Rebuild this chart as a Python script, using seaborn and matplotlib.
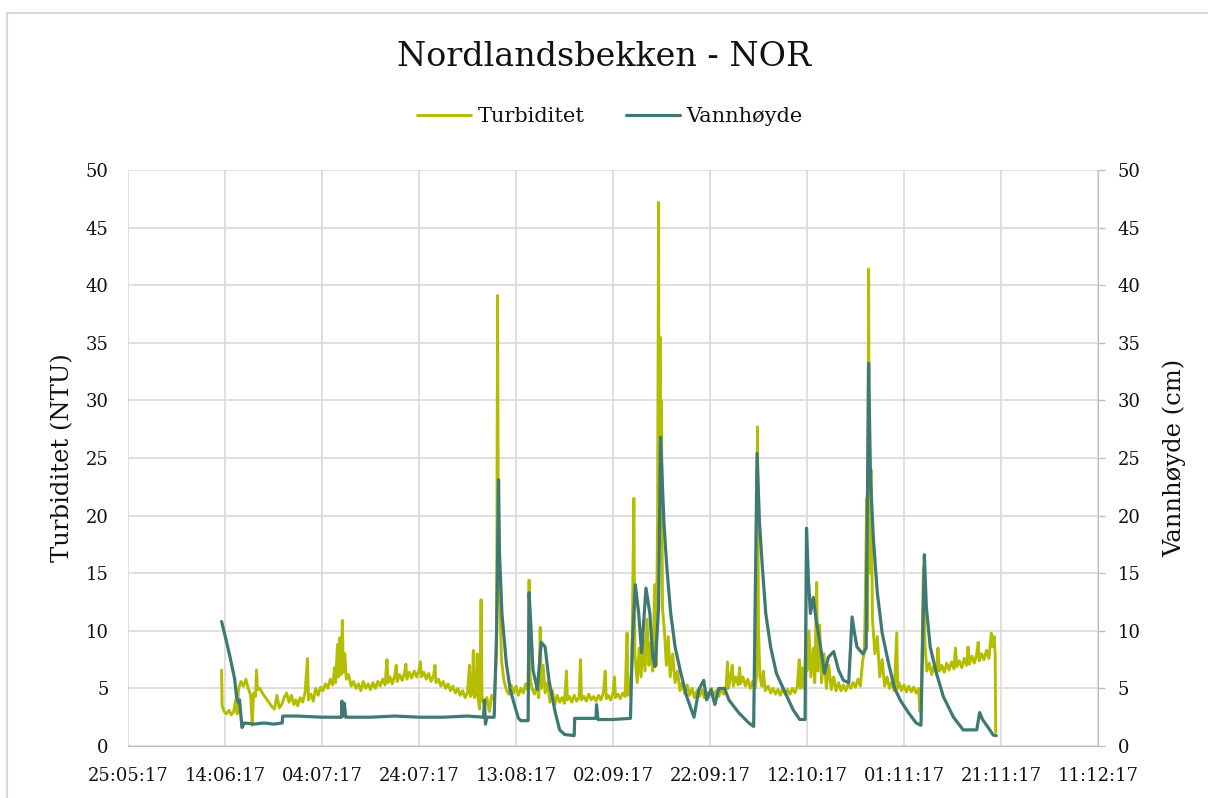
import pandas as pd
import matplotlib.pyplot as plt
import matplotlib.dates as mdates
from matplotlib.patches import Rectangle
import seaborn as sns

# dager etter 25.05.17 og måleverdi
start = pd.Timestamp("2017-05-25")

turbiditet = [
    (19.3, 6.6), (19.4, 3.5), (19.8, 3.0), (20.3, 2.8), (20.8, 3.1), (21.3, 2.7), (21.8, 3.0),
    (22.2, 4.0), (22.5, 2.8), (22.8, 5.0), (23.3, 5.6), (23.8, 5.2), (24.3, 5.8), (24.8, 5.0),
    (25.3, 4.4), (25.6, 1.8), (25.9, 4.6), (26.3, 4.3), (26.5, 6.6), (26.7, 4.9), (27.2, 5.0),
    (27.7, 4.6), (28.2, 4.3), (28.7, 4.0), (29.2, 3.7), (29.7, 3.4), (30.2, 3.2), (30.7, 4.4),
    (31.2, 3.3), (31.7, 3.6), (32.2, 4.2), (32.7, 4.6), (33.2, 3.8), (33.7, 4.4), (34.2, 3.6),
    (34.6, 4.0), (35.0, 3.5), (35.5, 4.2), (36.0, 3.8), (36.5, 4.6), (37.0, 7.6), (37.2, 4.0),
    (37.7, 4.5), (38.2, 3.9), (38.7, 5.0), (39.2, 4.4), (39.7, 5.1), (40.2, 4.8), (40.7, 5.4),
    (41.2, 5.0), (41.7, 5.8), (42.2, 5.3), (42.6, 6.8), (42.8, 5.5), (43.2, 8.8), (43.4, 6.0),
    (43.7, 9.4), (43.9, 6.2), (44.2, 10.9), (44.4, 6.4), (44.7, 8.0), (45.0, 5.8), (45.5, 6.2),
    (46.0, 5.2), (46.5, 5.6), (47.0, 5.0), (47.5, 5.4), (48.0, 4.8), (48.5, 5.6), (49.0, 5.0),
    (49.5, 5.4), (50.0, 4.9), (50.5, 5.5), (51.0, 5.0), (51.5, 5.6), (52.0, 5.2), (52.5, 5.8),
    (53.0, 5.3), (53.4, 7.5), (53.6, 5.5), (54.0, 6.0), (54.5, 5.4), (55.0, 6.1), (55.3, 7.0),
    (55.5, 5.6), (56.0, 6.2), (56.5, 5.7), (57.0, 6.3), (57.3, 7.1), (57.5, 5.8), (58.0, 6.4),
    (58.5, 5.9), (59.0, 6.5), (59.5, 6.0), (60.0, 6.6), (60.3, 7.3), (60.5, 6.0), (61.0, 6.4),
    (61.5, 5.8), (62.0, 6.3), (62.5, 5.6), (63.0, 6.1), (63.3, 7.0), (63.5, 5.5), (64.0, 5.8),
    (64.5, 5.2), (65.0, 5.6), (65.5, 5.0), (66.0, 5.4), (66.5, 4.8), (67.0, 5.2), (67.5, 4.6),
    (68.0, 5.0), (68.5, 4.4), (69.0, 4.8), (69.5, 4.2), (70.0, 4.6), (70.4, 7.0), (70.6, 4.3),
    (71.0, 4.7), (71.2, 8.3), (71.4, 4.2), (71.8, 4.5), (72.0, 8.0), (72.2, 4.0), (72.5, 3.2),
    (72.8, 12.7), (73.0, 4.0), (73.5, 3.5), (74.0, 4.2), (74.5, 3.0), (75.0, 4.4), (75.5, 4.0),
    (76.0, 8.0), (76.2, 39.1), (76.4, 12.7), (76.7, 12.0), (77.0, 7.5), (77.5, 5.7), (78.0, 4.9),
    (78.5, 4.5), (79.0, 5.3), (79.5, 4.6), (80.0, 5.2), (80.5, 4.4), (81.0, 5.0), (81.5, 4.6),
    (82.0, 5.4), (82.5, 4.8), (82.7, 14.4), (82.9, 6.0), (83.3, 5.0), (83.8, 4.5), (84.3, 5.3),
    (84.7, 4.2), (85.0, 10.3), (85.2, 5.0), (85.6, 7.0), (86.0, 4.6), (86.5, 5.5), (87.0, 3.8),
    (87.5, 4.8), (88.0, 3.6), (88.5, 4.4), (89.0, 3.8), (89.5, 4.2), (90.0, 3.7), (90.4, 6.5),
    (90.6, 4.0), (91.0, 4.3), (91.5, 3.8), (92.0, 4.4), (92.5, 3.9), (93.0, 4.2), (93.3, 7.5),
    (93.5, 4.0), (94.0, 4.3), (94.5, 3.9), (95.0, 4.5), (95.5, 4.0), (96.0, 4.3), (96.5, 3.9),
    (97.0, 4.4), (97.5, 4.0), (98.0, 4.6), (98.4, 6.5), (98.6, 4.1), (99.0, 4.4), (99.5, 4.0),
    (100.0, 4.6), (100.3, 6.0), (100.5, 4.2), (101.0, 4.5), (101.5, 4.1), (102.0, 4.6),
    (102.5, 4.3), (102.9, 9.8), (103.1, 4.4), (103.5, 5.0), (103.9, 7.0), (104.3, 21.5),
    (104.5, 8.0), (105.0, 5.5), (105.4, 8.5), (105.8, 6.0), (106.2, 9.5), (106.6, 6.5),
    (107.0, 11.0), (107.4, 7.0), (107.8, 9.0), (108.2, 6.5), (108.6, 14.0), (108.9, 7.0),
    (109.2, 20.0), (109.4, 47.2), (109.5, 18.0), (109.7, 35.5), (109.8, 19.0), (110.0, 30.0),
    (110.2, 12.0), (110.6, 10.0), (111.0, 7.0), (111.4, 9.5), (111.8, 6.0), (112.3, 8.0),
    (112.8, 5.5), (113.3, 6.5), (113.8, 4.8), (114.3, 5.5), (114.8, 4.5), (115.3, 5.3),
    (115.8, 4.4), (116.3, 5.0), (116.8, 4.2), (117.3, 4.8), (117.8, 4.3), (118.3, 4.9),
    (118.8, 4.2), (119.3, 4.7), (119.8, 4.3), (120.3, 5.0), (120.8, 4.4), (121.3, 4.8),
    (121.8, 4.3), (122.3, 5.0), (122.8, 4.5), (123.3, 4.9), (123.6, 7.3), (123.8, 5.0),
    (124.3, 6.2), (124.6, 7.0), (124.8, 5.2), (125.3, 6.0), (125.8, 5.3), (126.1, 6.8),
    (126.3, 5.4), (126.8, 6.0), (127.3, 5.2), (127.8, 5.8), (128.3, 5.0), (128.8, 5.6),
    (129.3, 5.0), (129.6, 6.0), (129.8, 27.7), (130.0, 10.0), (130.3, 6.0), (130.7, 5.2),
    (131.0, 6.5), (131.4, 4.8), (132.0, 5.2), (132.5, 4.6), (133.0, 5.0), (133.5, 4.5),
    (134.0, 4.9), (134.5, 4.4), (135.0, 5.0), (135.5, 4.5), (136.0, 4.9), (136.5, 4.5),
    (137.0, 5.0), (137.5, 4.6), (138.0, 5.2), (138.4, 7.5), (138.6, 5.0), (139.0, 6.8),
    (139.4, 5.0), (139.8, 9.0), (140.0, 6.5), (140.4, 10.0), (140.8, 6.0), (141.3, 8.5),
    (141.6, 5.5), (142.0, 14.2), (142.2, 6.5), (142.6, 10.5), (143.0, 5.5), (143.5, 8.0),
    (144.0, 5.0), (144.5, 7.0), (145.0, 4.9), (145.5, 6.0), (146.0, 4.8), (146.5, 5.5),
    (147.0, 4.8), (147.5, 5.3), (148.0, 4.8), (148.5, 5.4), (149.0, 5.0), (149.5, 5.5),
    (150.0, 5.1), (150.5, 5.8), (151.0, 5.2), (151.5, 7.5), (151.8, 8.0), (152.0, 12.0),
    (152.3, 21.5), (152.5, 10.0), (152.7, 41.4), (152.9, 15.0), (153.2, 24.0), (153.5, 11.0),
    (154.0, 8.0), (154.5, 9.5), (155.0, 6.0), (155.5, 7.5), (156.0, 5.2), (156.5, 6.0),
    (157.0, 5.0), (157.5, 5.6), (158.0, 4.8), (158.5, 9.8), (158.7, 5.0), (159.0, 5.5),
    (159.5, 4.8), (160.0, 5.3), (160.5, 4.7), (161.0, 5.2), (161.5, 4.7), (162.0, 5.1),
    (162.5, 4.6), (163.0, 5.0), (163.3, 3.0), (163.6, 5.0), (164.0, 15.5), (164.3, 9.0),
    (164.7, 6.5), (165.2, 7.2), (165.7, 6.2), (166.2, 7.0), (166.7, 6.3), (167.0, 8.5),
    (167.3, 6.5), (167.8, 7.0), (168.3, 6.4), (168.8, 7.2), (169.3, 6.6), (169.8, 7.3),
    (170.3, 6.7), (170.6, 8.5), (170.9, 6.9), (171.4, 7.4), (171.9, 6.8), (172.4, 7.6),
    (172.9, 7.0), (173.2, 8.6), (173.5, 7.1), (174.0, 7.8), (174.5, 7.2), (175.0, 8.0),
    (175.3, 9.0), (175.5, 7.4), (176.0, 8.0), (176.5, 7.5), (177.0, 8.3), (177.5, 7.6),
    (178.0, 9.8), (178.3, 8.6), (178.6, 9.5), (178.8, 8.0), (178.9, 1.2),
]

vannhoyde = [
    (19.3, 10.8), (20.0, 9.6), (21.0, 7.8), (22.0, 5.8), (22.4, 4.2), (22.7, 3.8), (23.0, 4.0),
    (23.3, 2.6), (23.5, 1.6), (24.0, 2.0), (26.0, 1.9), (28.0, 2.0), (30.0, 1.9), (31.8, 2.0),
    (31.9, 2.6), (35.0, 2.6), (40.0, 2.5), (44.0, 2.5), (44.1, 3.9), (44.4, 2.6), (44.6, 3.7),
    (44.9, 2.5), (50.0, 2.5), (55.0, 2.6), (60.0, 2.5), (65.0, 2.5), (70.0, 2.6), (73.3, 2.5),
    (73.5, 4.0), (73.7, 1.9), (74.0, 2.5), (75.5, 2.5), (76.0, 10.0), (76.4, 23.1),
    (76.6, 16.7), (77.1, 11.5), (78.0, 7.2), (78.8, 4.9), (79.8, 3.4), (80.5, 2.4), (81.0, 2.2),
    (82.5, 2.2), (82.7, 13.3), (83.0, 11.0), (83.5, 6.6), (84.4, 4.9), (85.2, 9.0), (86.0, 8.6),
    (86.8, 5.7), (88.1, 2.9), (89.0, 1.4), (90.0, 1.0), (92.0, 0.9), (92.1, 2.4), (96.5, 2.4),
    (96.6, 3.6), (96.9, 2.3), (100.0, 2.3), (103.6, 2.4), (104.0, 9.0), (104.6, 14.0),
    (105.3, 11.5), (105.9, 8.1), (106.8, 13.7), (107.6, 11.5), (108.2, 7.7), (108.7, 6.9),
    (109.4, 12.0), (109.8, 26.8), (110.5, 19.4), (111.1, 15.5), (111.9, 11.5), (112.8, 8.6),
    (114.0, 6.3), (115.2, 4.3), (116.7, 2.5), (117.7, 4.9), (118.7, 5.7), (119.3, 4.0),
    (120.2, 4.9), (121.0, 3.6), (121.8, 5.0), (123.0, 5.0), (123.9, 4.0), (125.9, 2.9),
    (128.0, 2.0), (129.0, 1.7), (129.7, 25.4), (130.2, 19.4), (130.8, 15.5), (131.5, 11.5),
    (132.5, 8.6), (133.7, 6.3), (135.2, 4.9), (137.2, 3.1), (138.5, 2.3), (139.6, 2.3),
    (139.9, 18.9), (140.3, 14.4), (140.7, 11.5), (141.3, 12.9), (141.9, 10.9), (142.8, 8.6),
    (143.6, 6.3), (144.4, 7.7), (145.5, 8.2), (146.5, 6.6), (147.5, 5.7), (148.6, 5.5),
    (149.3, 11.2), (149.8, 9.8), (150.3, 8.6), (151.5, 8.0), (152.2, 8.5), (152.7, 33.2),
    (153.1, 23.1), (153.7, 17.9), (154.5, 13.3), (155.5, 9.8), (156.8, 7.2), (158.0, 5.1),
    (159.2, 4.0), (160.9, 2.9), (162.5, 2.0), (163.5, 1.8), (164.2, 16.6), (164.6, 12.1),
    (165.4, 8.6), (166.7, 6.3), (168.1, 4.3), (170.2, 2.5), (172.2, 1.4), (175.0, 1.4),
    (175.6, 2.9), (176.2, 2.3), (177.2, 1.7), (178.4, 0.95), (179.0, 0.9),
]

gul = "#B5BD00"
teal = "#3E7A73"
grid_farge = "#D9D9D9"

df_t = pd.DataFrame(turbiditet, columns=["dag", "verdi"])
df_t["dato"] = start + pd.to_timedelta(df_t["dag"], unit="D")
df_v = pd.DataFrame(vannhoyde, columns=["dag", "verdi"])
df_v["dato"] = start + pd.to_timedelta(df_v["dag"], unit="D")

sns.set_style("white")
plt.rcParams["font.family"] = ["DejaVu Serif"]
plt.rcParams["text.color"] = "#111111"

fig = plt.figure(figsize=(12.08, 7.98), dpi=100)
ax = fig.add_axes([128 / 1208, 52 / 798, 970 / 1208, 576 / 798])
ax2 = ax.twinx()

sns.lineplot(data=df_t, x="dato", y="verdi", ax=ax, color=gul, linewidth=2.1,
             label="Turbiditet", legend=False)
sns.lineplot(data=df_v, x="dato", y="verdi", ax=ax2, color=teal, linewidth=2.3,
             label="Vannhøyde", legend=False)

ax.set_xlim(start, pd.Timestamp("2017-12-11"))
ax.set_xticks(pd.date_range(start, "2017-12-11", freq="20D"))
ax.xaxis.set_major_formatter(mdates.DateFormatter("%d:%m:%y"))
for a in (ax, ax2):
    a.set_ylim(0, 50)
    a.set_yticks(range(0, 51, 5))

ax.grid(True, color=grid_farge, linewidth=1.2)
ax2.grid(False)
ax.tick_params(axis="both", length=0, labelsize=13, colors="#111111")
ax.tick_params(axis="y", pad=14)
ax.tick_params(axis="x", pad=15)
ax2.tick_params(axis="y", length=5, width=1, color="#BFBFBF", pad=9,
                labelsize=13, labelcolor="#111111")

for s in ("left", "top", "right"):
    ax.spines[s].set_visible(False)
for s in ("left", "top", "bottom"):
    ax2.spines[s].set_visible(False)
ax.spines["bottom"].set_color("#BFBFBF")
ax2.spines["right"].set_color("#BFBFBF")

ax.set_xlabel("")
ax.set_ylabel("Turbiditet (NTU)", fontsize=17.5, labelpad=8, color="#111111")
ax2.set_ylabel("Vannhøyde (cm)", fontsize=17.5, labelpad=16, color="#111111")
ax2.yaxis.label.set_rotation(90)

fig.suptitle("Nordlandsbekken - NOR", fontsize=24, y=1 - 57 / 798, va="center",
             color="#111111")

linjer = ax.get_lines() + ax2.get_lines()
fig.legend(linjer, ["Turbiditet", "Vannhøyde"], loc="center", bbox_to_anchor=(0.505, 1 - 117 / 798),
           ncol=2, frameon=False, fontsize=15, handlelength=2.6, columnspacing=2.0,
           handletextpad=0.3)

fig.patches.append(Rectangle((7 / 1208, -0.1), 1.2, 1.1 - 13 / 798, transform=fig.transFigure,
                             fill=False, edgecolor=grid_farge, linewidth=1.5))

fig.savefig("out.png", dpi=100)
